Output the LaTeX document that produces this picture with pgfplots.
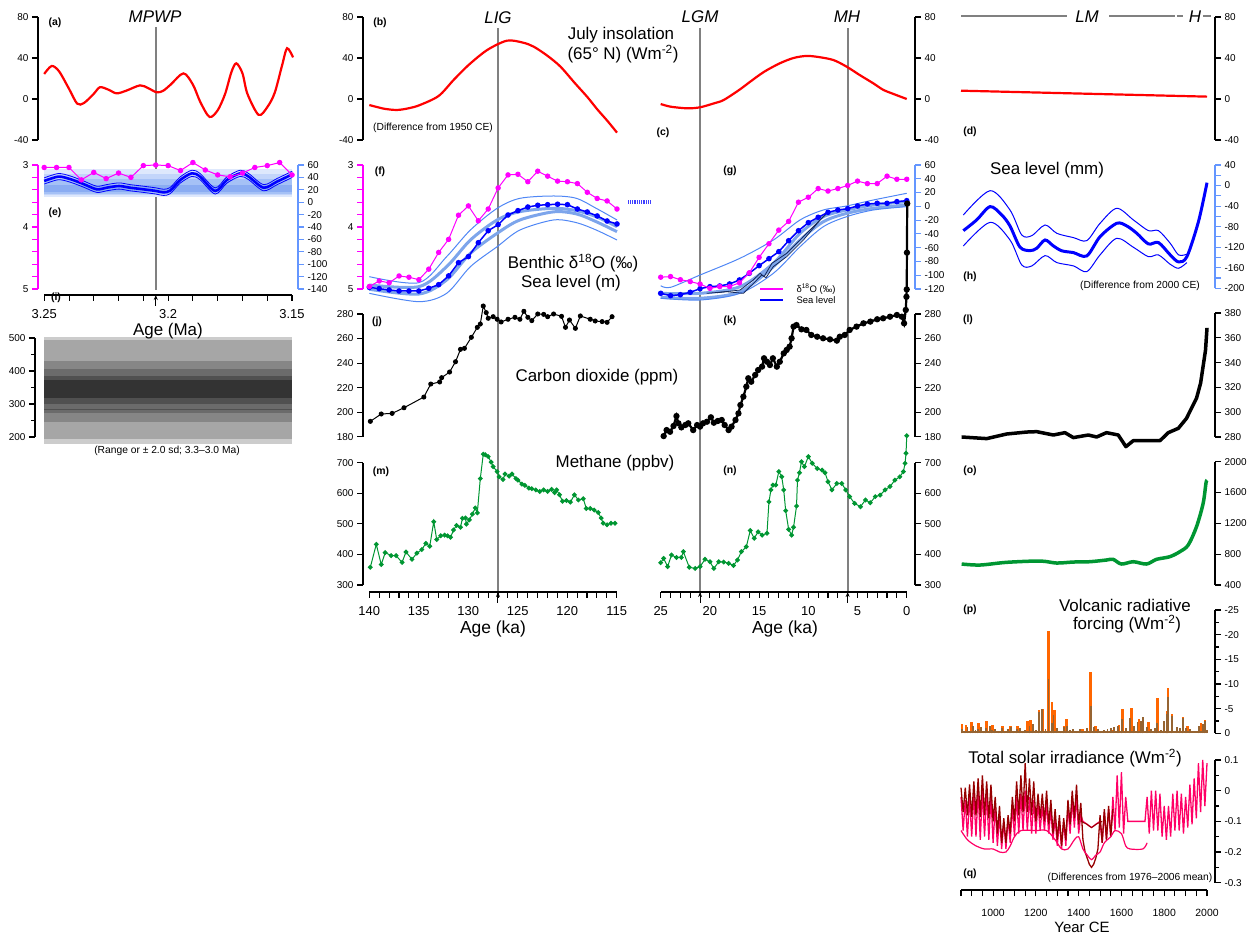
\documentclass[border=0pt]{standalone}
\usepackage{fontspec}
\setmainfont{Liberation Sans}
\usepackage{pgfplots}
\pgfplotsset{compat=1.18}
\usetikzlibrary{arrows.meta}
\definecolor{insol}{RGB}{255,0,0}
\definecolor{mag}{RGB}{255,0,255}
\definecolor{blaxis}{RGB}{100,150,255}
\definecolor{sl}{RGB}{0,0,255}
\definecolor{slthick}{RGB}{125,165,235}
\definecolor{slthin}{RGB}{80,135,245}
\definecolor{navy}{RGB}{20,40,90}
\definecolor{ch4}{RGB}{0,150,50}
\definecolor{volc}{RGB}{255,102,0}
\definecolor{volcb}{RGB}{150,100,50}
\definecolor{tsidark}{RGB}{150,0,0}
\definecolor{tsipink}{RGB}{255,0,102}
\definecolor{per}{RGB}{128,128,128}
\definecolor{eba}{RGB}{222,232,252}
\definecolor{ebb}{RGB}{195,213,250}
\definecolor{ebc}{RGB}{165,193,246}
\definecolor{ebd}{RGB}{138,172,242}
\definecolor{ga}{RGB}{204,204,204}
\definecolor{gb}{RGB}{166,166,166}
\definecolor{gc}{RGB}{134,134,134}
\definecolor{gd}{RGB}{107,107,107}
\definecolor{ge}{RGB}{80,80,80}
\definecolor{gf}{RGB}{51,51,51}
\newcommand{\fs}[1]{\fontsize{#1}{#1}\selectfont}
\pgfplotsset{
  P/.style={scale only axis, anchor=south west, clip=false,
    axis line style={-, line width=1.3bp},
    tick style={line width=1.1bp, black},
    major tick length=6bp, minor tick length=6bp,
    tick align=outside,
    ticklabel style={font=\fs{10}},
    /pgf/number format/assume math mode=true,
    /pgf/number format/1000 sep={},
    axis x line=none, axis y line*=left},
  LL/.style={axis y line*=left},
  RR/.style={axis y line*=right},
  RN/.style={axis y line*=right},
  BL/.style={y axis line style={blaxis}, ytick style={blaxis, line width=1.1bp}},
  MG/.style={y axis line style={mag}, ytick style={mag, line width=1.1bp}},
  H/.style={P, hide axis},
  X/.style={scale only axis, anchor=south west, clip=false,
    axis line style={-, line width=1.3bp},
    tick style={line width=1.1bp, black},
    major tick length=6bp, minor tick length=6bp,
    /pgf/number format/assume math mode=true,
    /pgf/number format/1000 sep={},
    axis y line=none, axis x line*=bottom, xtick pos=left, xticklabel pos=left,
    tick align=outside, height=10bp, ymin=0, ymax=1,
    xticklabel style={font=\fs{13}, yshift=-5bp}},
}
\begin{document}
\begin{tikzpicture}
\useasboundingbox (0,0) rectangle (1255bp,935bp);

% ================= Column A (Pliocene) =================
\begin{axis}[P, LL, at={(38bp,795bp)}, width=260bp, height=123bp,
  x dir=reverse, xmin=3.1476, xmax=3.2525, ymin=-40, ymax=80, ytick={-40,0,40,80}]
\addplot[per, line width=2.2bp] coordinates {(3.205,70) (3.205,-186)};
\addplot[insol, line width=2.2bp, smooth] coordinates {
(3.25,24.4) (3.247,32.2) (3.244,27) (3.240,10) (3.2367,-4.5) (3.234,-4) (3.230,5) (3.2275,11.5)
(3.224,9) (3.2208,5.5) (3.217,8) (3.2113,13.3) (3.208,10.5) (3.2046,6.5) (3.202,8) (3.199,14)
(3.1938,25) (3.190,14) (3.187,-3) (3.1833,-17.5) (3.180,-11) (3.177,5) (3.1745,26) (3.1725,34.8)
(3.170,25) (3.168,5) (3.1635,-15.5) (3.160,-8) (3.157,6) (3.154,33) (3.152,49.5) (3.1496,40.6)};
\end{axis}

\begin{axis}[P, RR, BL, at={(38bp,646bp)}, width=260bp, height=124bp,
  x dir=reverse, xmin=3.1476, xmax=3.2525, ymin=-140, ymax=60, ytick={-140,-120,...,60}]
\addplot[fill=eba, draw=none] coordinates {(3.25,9) (3.15,9) (3.15,53.5) (3.25,53.5)};
\addplot[fill=ebb, draw=none] coordinates {(3.25,11) (3.15,11) (3.15,46) (3.25,46)};
\addplot[fill=ebc, draw=none] coordinates {(3.25,13) (3.15,13) (3.15,37) (3.25,37)};
\addplot[fill=ebd, draw=none] coordinates {(3.25,16) (3.15,16) (3.15,28) (3.25,28)};
\addplot[sl, line width=0.8bp, smooth] coordinates {
(3.25,39.2) (3.2443,46.2) (3.2396,42.4) (3.2342,34.4) (3.2288,25.8) (3.2248,28.4) (3.2198,31.1)
(3.2154,28.4) (3.2100,25.8) (3.2049,23.1) (3.2019,20.9) (3.1992,23.6) (3.1951,40.8) (3.1904,51.6)
(3.1871,46.2) (3.1810,23.1) (3.1763,40.8) (3.1709,51.6) (3.1675,46.2) (3.1615,28.4) (3.1561,38.1) (3.1499,50)};
\addplot[sl, line width=0.8bp, smooth] coordinates {
(3.25,29.2) (3.2443,36.2) (3.2396,32.4) (3.2342,24.4) (3.2288,15.8) (3.2248,18.4) (3.2198,21.1)
(3.2154,18.4) (3.2100,15.8) (3.2049,13.1) (3.2019,10.9) (3.1992,13.6) (3.1951,30.8) (3.1904,41.6)
(3.1871,36.2) (3.1810,13.1) (3.1763,30.8) (3.1709,41.6) (3.1675,36.2) (3.1615,18.4) (3.1561,28.1) (3.1499,40)};
\addplot[sl, line width=2.6bp, smooth] coordinates {
(3.25,34.2) (3.2443,41.2) (3.2396,37.4) (3.2342,29.4) (3.2288,20.8) (3.2248,23.4) (3.2198,26.1)
(3.2154,23.4) (3.2100,20.8) (3.2049,18.1) (3.2019,15.9) (3.1992,18.6) (3.1951,35.8) (3.1904,46.6)
(3.1871,41.2) (3.1810,18.1) (3.1763,35.8) (3.1709,46.6) (3.1675,41.2) (3.1615,23.4) (3.1561,33.1) (3.1499,45)};
\end{axis}

\begin{axis}[P, LL, MG, at={(38bp,646bp)}, width=260bp, height=124bp,
  x dir=reverse, xmin=3.1476, xmax=3.2525, y dir=reverse, ymin=3, ymax=5,
  ytick={3,4,5}, minor ytick={3.2,3.4,3.6,3.8,4.2,4.4,4.6,4.8}]
\addplot[mag, line width=1bp, mark=*, mark size=2.2bp] coordinates {
(3.25,3.04) (3.245,3.04) (3.24,3.04) (3.235,3.24) (3.23,3.12) (3.225,3.22) (3.22,3.13) (3.215,3.20)
(3.21,3.01) (3.205,3.00) (3.20,3.01) (3.195,3.09) (3.19,2.96) (3.185,3.08) (3.18,3.16) (3.175,3.19)
(3.17,3.13) (3.165,3.04) (3.16,3.01) (3.155,2.96) (3.15,3.16)};
\end{axis}

\begin{axis}[X, at={(44.3bp,640bp)}, width=247.7bp, x dir=reverse, xmin=3.15, xmax=3.25,
  xtick={3.15,3.2,3.25}, xticklabels={3.15,3.2,3.25},
  minor xtick={3.16,3.17,3.18,3.19,3.21,3.22,3.23,3.24}]
\addplot[black, line width=1bp, -{Stealth[length=5bp,width=4bp]}] coordinates {(3.205,-1.1) (3.205,0)};
\end{axis}

\begin{axis}[P, LL, at={(35bp,498bp)}, width=257bp, height=99bp, minor tick length=3.5bp,
  x dir=reverse, xmin=3.15, xmax=3.2538, ymin=200, ymax=500,
  ytick={200,300,400,500}, minor ytick={250,350,450}]
\addplot[fill=ga, draw=none] coordinates {(3.25,177.8) (3.15,177.8) (3.15,503.9) (3.25,503.9)};
\addplot[fill=gb, draw=none] coordinates {(3.25,194.8) (3.15,194.8) (3.15,494) (3.25,494)};
\addplot[fill=gc, draw=none] coordinates {(3.25,246.5) (3.15,246.5) (3.15,430.3) (3.25,430.3)};
\addplot[fill=gd, draw=none] coordinates {(3.25,271.8) (3.15,271.8) (3.15,406) (3.25,406)};
\addplot[fill=ge, draw=none] coordinates {(3.25,301) (3.15,301) (3.15,385.8) (3.25,385.8)};
\addplot[fill=gf, draw=none] coordinates {(3.25,317) (3.15,317) (3.15,372) (3.25,372)};
\addplot[ge, line width=1bp] coordinates {(3.25,284) (3.15,284)};
\end{axis}

% ================= Column B (LIG) =================
\begin{axis}[P, LL, at={(363bp,795bp)}, width=254bp, height=123bp,
  x dir=reverse, xmin=115, xmax=140.64, ymin=-40, ymax=80, ytick={-40,0,40,80}]
\addplot[per, line width=2.2bp] coordinates {(127,69) (127,-481)};
\addplot[insol, line width=2.2bp, smooth] coordinates {
(140,-5.9) (138.5,-9.5) (137.2,-10.7) (136,-9) (134.9,-5.9) (133,3) (131.5,18.5) (130,33) (128.1,47.8)
(126.1,56.9) (124.5,55) (123.4,51) (122,42) (120.7,31.5) (119.3,16) (118,2) (117,-10) (116,-21) (115,-32.8)};
\end{axis}

\begin{axis}[H, at={(363bp,646bp)}, width=254bp, height=124bp,
  x dir=reverse, xmin=115, xmax=140.64, ymin=-120, ymax=60]
\addplot[slthin, line width=1bp, smooth] coordinates {
(140,-102.1) (135,-110.8) (132.2,-73.1) (129.8,-34.4) (127.1,-2.9) (124.8,11.6) (121.4,15) (119.1,11.6) (117.1,-2.9) (115,-19.8)};
\addplot[slthick, line width=3bp, smooth] coordinates {
(140,-114.2) (135,-116.6) (132.2,-87.6) (129.8,-48.9) (127.1,-19.8) (124.8,-7.7) (121.4,-2.9) (119.1,-6.3) (117.1,-15) (115,-29.5)};
\addplot[slthick, line width=3bp, smooth] coordinates {
(140,-120.4) (135,-127.3) (132.2,-106.9) (129.8,-68.2) (127.1,-39.2) (124.8,-19.8) (121.4,-8) (119.1,-11) (117.1,-22.3) (115,-36.8)};
\addplot[slthin, line width=1bp, smooth] coordinates {
(140,-126.3) (135,-138.4) (132.2,-126.3) (129.8,-87.6) (127.1,-58.6) (124.8,-34.4) (121.4,-19.8) (119.1,-23.7) (117.1,-34.4) (115,-48.9)};
\addplot[sl, line width=1.5bp, mark=*, mark size=2bp] coordinates {
(140,-117.6) (139,-119.5) (138,-121.4) (137,-122.9) (136,-122.9) (135,-122.9) (134,-119) (133,-113.7)
(132,-101) (131,-81.8) (130,-73) (129,-52.8) (128,-35.4) (127,-26.6) (126,-12.6) (125,-6.3) (124,-1)
(123,1.5) (122,2.4) (121,3) (120,2.4) (119,-3.9) (118,-8.2) (117,-14) (116,-21.3) (115,-25.6)};
\addplot[sl!75!white, line width=4bp, dash pattern=on 1bp off 0.8bp] coordinates {(113.86,6.3) (111.6,6.3)};
\end{axis}

\begin{axis}[P, LL, MG, at={(363bp,646bp)}, width=254bp, height=124bp,
  x dir=reverse, xmin=115, xmax=140.64, y dir=reverse, ymin=3, ymax=5,
  ytick={3,4,5}, minor ytick={3.2,3.4,3.6,3.8,4.2,4.4,4.6,4.8}]
\addplot[mag, line width=1bp, mark=*, mark size=2.2bp] coordinates {
(140,4.96) (139,4.87) (138,4.90) (137,4.79) (136,4.81) (135,4.85) (134,4.68) (133,4.41) (132,4.20)
(131,3.81) (130,3.66) (129,3.90) (128,3.71) (127,3.37) (126,3.16) (125,3.15) (124,3.27) (123,3.10)
(122,3.18) (121,3.26) (120,3.27) (119,3.30) (118,3.44) (117,3.54) (116,3.58) (115,3.71)};
\end{axis}

\begin{axis}[P, LL, at={(363bp,498.3bp)}, width=254bp, height=122.7bp,
  x dir=reverse, xmin=115, xmax=140.64, ymin=180, ymax=280, ytick={180,200,...,280}]
\addplot[black, line width=1bp, mark=*, mark size=2bp] coordinates {
(139.9,192.5) (138.8,198.5) (137.7,199) (136.5,203.6) (134.5,212.3) (133.8,222.9) (132.9,224.6)
(132.7,228.1) (131.9,232.7) (131.3,241.1) (130.8,251.2) (130.4,252) (129.7,261) (129.1,269.1)
(128.8,271.8) (128.5,286.5) (128.2,281.1) (128.0,276.5) (127.5,277.8) (127.1,275.7) (126.7,273.5)
(126.0,275.7) (125.3,277.3) (124.8,275.7) (124.4,282.2) (124.0,277.3) (123.6,274.6) (123.0,280)
(122.4,279.7) (122.0,277.8) (121.4,280) (120.6,278.1) (120.2,269.1) (119.8,275.1) (119.2,268.3)
(118.7,278.4) (117.7,275.7) (117.2,274.3) (116.5,273.8) (116.0,273.2) (115.5,277.8)};
\end{axis}

\begin{axis}[P, LL, at={(363bp,350bp)}, width=254bp, height=122.3bp,
  x dir=reverse, xmin=115, xmax=140.64, ymin=300, ymax=700, ytick={300,400,...,700}]
\addplot[ch4, line width=1bp, mark=*, mark size=1.9bp] coordinates {
(139.9,358) (139.3,433) (138.8,367) (138.4,406) (137.8,396) (137.3,396) (136.7,374) (136.3,408)
(135.7,384) (135.2,404) (134.7,416) (134.3,436) (133.9,427) (133.5,507) (133.2,449) (132.8,461)
(132.4,463) (132.1,461) (131.8,456) (131.5,480) (131.2,495) (130.8,489) (130.6,518) (130.3,519)
(130.2,499) (129.9,513) (129.6,532) (129.3,552) (129.1,536) (128.8,648) (128.5,728) (128.3,726)
(128.0,720) (127.7,702) (127.5,687) (127.1,671) (126.9,654) (126.5,645) (126.3,663) (125.9,656)
(125.6,663) (125.2,648) (125.0,643) (124.6,630) (124.3,626) (123.9,617) (123.6,615) (123.2,611)
(122.8,606) (122.4,611) (122.0,606) (121.6,613) (121.3,602) (121.1,611) (120.8,595) (120.5,574)
(120.1,576) (119.7,571) (119.3,595) (118.9,578) (118.4,582) (118.1,550) (117.7,550) (117.3,545)
(116.9,537) (116.6,519) (116.4,502) (116.0,497) (115.6,502) (115.2,502)};
\end{axis}

\begin{axis}[X, at={(369.3bp,343bp)}, width=247.4bp, x dir=reverse, xmin=115, xmax=140,
  xtick={115,120,...,140}, minor xtick={115,116,...,140}]
\addplot[black, line width=1bp, -{Stealth[length=5bp,width=4bp]}] coordinates {(127,-1.1) (127,0)};
\end{axis}

% ================= Column C (Holocene) =================
\begin{axis}[P, RR, at={(660.7bp,795bp)}, width=254.3bp, height=123bp,
  x dir=reverse, xmin=-0.84, xmax=25, ymin=-40, ymax=80, ytick={-40,0,40,80}]
\addplot[per, line width=2.2bp] coordinates {(21,69) (21,-481)};
\addplot[per, line width=2.2bp] coordinates {(6,69) (6,-481)};
\addplot[insol, line width=2.2bp, smooth] coordinates {
(25,-4.9) (24,-7.5) (22.3,-9.1) (21,-8.1) (19.5,-4) (18.6,-1) (17,9) (15.9,16.9) (14.5,26.5)
(12.9,34.8) (11.5,40) (10.2,42) (9,41) (7.45,38) (6.1,31.5) (4.8,23.5) (3.4,15.3) (2.4,9) (1.35,4.9) (0,0)};
\end{axis}

\begin{axis}[P, RR, BL, at={(660.7bp,646bp)}, width=254.3bp, height=124bp,
  x dir=reverse, xmin=-0.84, xmax=25, ymin=-120, ymax=60, ytick={-120,-100,...,60}]
\addplot[slthin, line width=1bp, smooth] coordinates {
(25,-115.2) (24,-117.6) (21,-99.7) (16.94,-75.4) (13.55,-48.9) (10.84,-19.8) (8.47,-5.3) (6.1,0.5) (3.39,9.2) (0,18.9)};
\addplot[slthick, line width=3bp, smooth] coordinates {
(25,-126.3) (21,-126.3) (16.94,-116.6) (13.55,-82.7) (10.84,-39.2) (8.47,-15) (6.1,-5.3) (3.39,1.9) (0,6.8)};
\addplot[slthick, line width=3bp, smooth] coordinates {
(25,-132) (21,-133.5) (16.94,-123.9) (13.55,-87.6) (10.84,-48.9) (8.47,-22.3) (6.1,-10.2) (3.39,-2.9) (0,1.9)};
\addplot[slthin, line width=1bp, smooth] coordinates {
(25,-133.5) (21,-136) (16.94,-126.3) (13.55,-97.2) (10.84,-58.6) (8.47,-29.5) (6.1,-15) (3.39,-5.3) (0,-0.5)};
\addplot[navy, line width=0.8bp] coordinates {
(20.33,-126.3) (18.33,-123.9) (16.6,-126.3) (15.4,-109.4) (14.74,-99.7) (14.3,-103.6) (13.56,-87.6) (12.2,-73.1) (10.5,-48.9) (8.8,-19.8) (8.13,-10.2)};
\addplot[navy, line width=0.8bp] coordinates {
(19.3,-125.4) (16.94,-121.5) (15.6,-107) (14.9,-97.2) (14.5,-102.1) (13.7,-82.7) (12.2,-68.2) (10.84,-48.9) (9.15,-24.7) (8.13,-10.2)};
\addplot[sl, line width=1.5bp, mark=*, mark size=2bp] coordinates {
(25,-126.3) (24,-129.7) (23,-128.3) (22,-124.8) (21,-119.5) (20,-116.6) (19,-115.6) (18,-112.7)
(17,-106.9) (16,-97.2) (15,-86.1) (14,-76) (13,-65.8) (12,-49.9) (11,-35.4) (10,-23.7) (9,-15.9)
(8,-8.7) (7,-5.3) (6,-3.4) (5,0.5) (4,3.4) (3,4.4) (2,4.4) (1,6.8) (0,8.2)};
\end{axis}

\begin{axis}[H, at={(660.7bp,646bp)}, width=254.3bp, height=124bp,
  x dir=reverse, xmin=-0.84, xmax=25, y dir=reverse, ymin=3, ymax=5]
\addplot[mag, line width=1bp, mark=*, mark size=2.2bp] coordinates {
(25,4.81) (24,4.80) (23,4.85) (22,4.88) (21,4.92) (20,4.99) (19,4.96) (18,4.96) (17,4.90) (16,4.74)
(15,4.49) (14,4.27) (13,4.05) (12,3.91) (11,3.60) (10,3.52) (9,3.38) (8,3.42) (7,3.38) (6,3.33)
(5,3.26) (4,3.30) (3,3.30) (2,3.18) (1,3.23) (0,3.23)};
\end{axis}

\begin{axis}[P, RR, at={(660.7bp,498.3bp)}, width=254.3bp, height=122.7bp,
  x dir=reverse, xmin=-0.84, xmax=25, ymin=180, ymax=280, ytick={180,200,...,280}]
\addplot[black, line width=2.2bp, mark=*, mark size=2bp] coordinates {
(24.7,180.5) (24.4,185.4) (24.05,184) (23.7,188.7) (23.4,196.8) (23.2,190.9) (22.9,187.6) (22.5,189.5)
(22.2,190.9) (21.7,185.4) (21.3,189.5) (21.0,188.2) (20.7,190.9) (20.3,192.2) (19.9,195.8) (19.6,191.4)
(19.2,192.8) (18.8,193.6) (18.5,189.5) (18.1,185.4) (17.8,188.2) (17.4,193.6) (17.1,199) (16.9,205.8)
(16.6,212.6) (16.3,220.8) (16.1,227.6) (15.8,224.8) (15.4,230.3) (15.1,234.3) (14.7,237.1) (14.5,243.9)
(14.2,241.1) (13.9,238.4) (13.6,243.9) (13.2,237.1) (12.9,241.1) (12.5,247.9) (12.2,250.7) (11.9,253.4)
(11.7,260.2) (11.5,269.7) (11.2,271) (10.7,267.5) (10.2,267) (9.7,262.9) (9.1,261.5) (8.5,260.2)
(7.8,259.3) (7.1,258.3) (6.8,261.5) (6.3,262.9) (5.8,267) (5.1,269.7) (4.4,272.4) (3.7,273.8)
(3.0,275.7) (2.4,276.5) (1.7,277.8) (1.0,279.2) (0.5,277.8) (0.27,272.4) (0.1,283.3) (0.03,294)
(0.0,300) (-0.02,330) (-0.05,370)};
\end{axis}

\begin{axis}[P, RR, at={(660.7bp,350bp)}, width=254.3bp, height=122.3bp,
  x dir=reverse, xmin=-0.84, xmax=25, ymin=300, ymax=700, ytick={300,400,...,700}]
\addplot[ch4, line width=1bp, mark=*, mark size=1.9bp] coordinates {
(25,373) (24.7,387) (24.3,360) (23.9,398) (23.4,390) (22.9,390) (22.7,409) (22.1,358) (21.5,354)
(21.0,360) (20.5,384) (20.0,376) (19.6,354) (19.1,376) (18.6,375) (18.1,371) (17.6,364) (17.2,382)
(16.8,409) (16.3,425) (15.9,478) (15.5,453) (15.1,474) (14.7,463) (14.2,469) (14.0,572) (13.8,611)
(13.6,627) (13.3,627) (13.0,671) (12.7,654) (12.5,611) (12.3,543) (12.0,482) (11.7,463) (11.5,489)
(11.2,558) (11.1,643) (10.9,667) (10.7,703) (10.4,687) (10.0,720) (9.6,698) (9.1,681) (8.6,676)
(8.3,667) (8.0,638) (7.6,611) (7.1,632) (6.6,632) (6.2,611) (5.8,589) (5.3,567) (4.7,556) (4.2,578)
(3.7,569) (3.2,589) (2.7,594) (2.2,611) (1.7,622) (1.2,643) (0.7,654) (0.34,671) (0.17,698) (0.07,731) (0.0,788)};
\end{axis}

\begin{axis}[X, at={(660.7bp,343bp)}, width=246bp, x dir=reverse, xmin=0, xmax=25,
  xtick={0,5,...,25}, minor xtick={0,1,...,25}]
\addplot[black, line width=1bp, -{Stealth[length=5bp,width=4bp]}] coordinates {(21,-1.1) (21,0)};
\addplot[black, line width=1bp, -{Stealth[length=5bp,width=4bp]}] coordinates {(6,-1.1) (6,0)};
\end{axis}

% ================= Column D (Last millennium) =================
\begin{axis}[P, RN, at={(961bp,795bp)}, width=254bp, height=123bp,
  xmin=850, xmax=2037.4, ymin=-40, ymax=80, ytick={-40,0,40,80}]
\addplot[per, line width=2bp] coordinates {(850,81) (1345,81)};
\addplot[per, line width=2bp] coordinates {(1542,81) (1850,81)};
\addplot[per, line width=2bp] coordinates {(1859,81) (1887,81)};
\addplot[per, line width=2bp] coordinates {(1981,81) (2018,81)};
\addplot[insol, line width=2.2bp] coordinates {(850,8.1) (2000,2.3)};
\end{axis}

\begin{axis}[P, RN, BL, at={(961bp,646.7bp)}, width=254bp, height=123.3bp,
  xmin=850, xmax=2037.4, ymin=-200, ymax=40, ytick={-200,-160,...,40}, minor ytick={-180,-140,...,20}]
\addplot[sl, line width=1bp, smooth] coordinates {
(861,-57.3) (986,-10) (1079,-47.6) (1134,-96.2) (1181,-97.5) (1243,-76.8) (1298,-93) (1376,-101.4)
(1438,-107.2) (1500,-73.5) (1578,-44.3) (1656,-67) (1726,-87.8) (1773,-87.8) (1828,-112.4) (1867,-135) (1906,-133.8)};
\addplot[sl, line width=1bp, smooth] coordinates {
(861,-117.6) (986,-71.6) (1079,-106) (1134,-154.6) (1181,-156.5) (1243,-136.4) (1298,-150) (1376,-156.5)
(1438,-167.5) (1500,-135) (1578,-102.7) (1656,-120.2) (1726,-138.4) (1773,-135) (1828,-153.3) (1867,-161) (1906,-150)};
\addplot[sl, line width=3bp, smooth] coordinates {
(861,-87.8) (923,-67) (986,-41) (1040,-57) (1079,-78.7) (1126,-120) (1173,-126.7) (1204,-122)
(1243,-106) (1282,-117.6) (1321,-127) (1376,-130.6) (1438,-137) (1500,-99.5) (1578,-73.5)
(1625,-78.7) (1672,-93) (1726,-113.7) (1773,-111) (1828,-135) (1867,-148.7) (1906,-138.4) (1960,-70.3) (2000,5.6)};
\end{axis}

\begin{axis}[P, RN, at={(961bp,498bp)}, width=254bp, height=124bp,
  xmin=850, xmax=2037.4, ymin=280, ymax=380, ytick={280,300,...,380}]
\addplot[black, line width=3.5bp, line join=round] coordinates {
(853,280) (970,278.7) (1063,282.4) (1157,284) (1204,284.3) (1282,281.6) (1336,283.5) (1375,279.5)
(1445,281.6) (1484,280) (1530,283.5) (1585,281.6) (1621,272.2) (1655,277) (1717,277) (1780,277)
(1819,283.5) (1866,287) (1904,295) (1951,311.3) (1970,323.4) (1993,350) (2000,368)};
\end{axis}

\begin{axis}[P, RN, at={(961bp,350bp)}, width=254bp, height=123.3bp,
  xmin=850, xmax=2037.4, ymin=400, ymax=2000, ytick={400,800,...,2000}]
\addplot[ch4, line width=3.5bp, line join=round, smooth] coordinates {
(853,672) (939,659) (1063,694) (1219,711) (1297,685) (1375,698) (1452,702) (1530,724) (1561,733)
(1600,672) (1655,702) (1717,672) (1764,733) (1826,767) (1873,832) (1912,918) (1951,1157) (1982,1460)
(1995,1720) (2000,1760)};
\end{axis}

\begin{axis}[P, RN, at={(961bp,201.7bp)}, width=254bp, height=123.3bp, minor tick length=4bp,
  xmin=850, xmax=2037.4, y dir=reverse, ymin=-25, ymax=0, ytick={-25,-20,...,0},
  minor ytick={-22.5,-17.5,-12.5,-7.5,-2.5}]
\addplot[volc, ycomb, line width=2.5bp] coordinates {
(855,-1.9) (873,-1.7) (898,-2.2) (931,-2.0) (970,-2.4) (997,-1.7) (1043,-1.5) (1082,-1.5) (1113,-1.4)
(1160,-2.4) (1175,-2.6) (1214,-4.7) (1230,-5.0) (1259,-20.8) (1276,-6.3) (1287,-4.7) (1331,-1.4)
(1342,-3.0) (1417,-0.8) (1456,-12.4) (1479,-1.4) (1557,-0.7) (1588,-1.7) (1604,-4.9) (1646,-5.1)
(1682,-2.8) (1701,-3.4) (1726,-2.2) (1768,-7.1) (1812,-4.5) (1817,-9.1) (1836,-3.9) (1888,-3.4)
(1908,-1.5) (1971,-2.0) (1991,-2.6)};
\addplot[volcb, ycomb, line width=1.8bp] coordinates {
(855,-0.9) (868,-0.5) (880,-1.2) (895,-0.4) (905,-1.5) (918,-0.6) (930,-0.9) (945,-1.3) (958,-0.5)
(968,-1.0) (985,-1.4) (995,-0.6) (1010,-0.8) (1025,-0.4) (1040,-1.1) (1055,-0.5) (1070,-0.9)
(1083,-1.2) (1098,-0.4) (1110,-0.8) (1125,-1.1) (1138,-0.5) (1150,-0.7) (1170,-1.5) (1185,-1.8)
(1200,-0.6) (1214,-4.3) (1230,-5.0) (1245,-0.8) (1259,-11.1) (1275,-2.0) (1282,-3.7) (1300,-1.0)
(1315,-0.5) (1330,-1.2) (1345,-1.5) (1360,-0.6) (1375,-0.9) (1390,-0.4) (1405,-0.8) (1420,-0.5)
(1440,-1.0) (1456,-5.5) (1470,-1.2) (1490,-0.8) (1505,-0.4) (1520,-0.7) (1535,-0.9) (1550,-1.0)
(1565,-1.3) (1585,-1.5) (1604,-3.0) (1620,-1.0) (1641,-3.2) (1660,-1.5) (1675,-2.3) (1690,-2.5)
(1701,-3.4) (1720,-1.2) (1740,-0.8) (1755,-1.0) (1768,-2.0) (1785,-0.7) (1800,-2.4) (1812,-4.0)
(1817,-7.3) (1835,-3.5) (1860,-1.2) (1875,-1.0) (1888,-3.2) (1900,-1.0) (1920,-0.8) (1963,-1.5)
(1982,-1.8) (1991,-2.4) (2000,-0.6)};
\addplot[volcb, line width=2bp] coordinates {(852,-0.3) (2000,-0.3)};
\end{axis}

\begin{axis}[P, RN, at={(961bp,52.3bp)}, width=254bp, height=122.7bp, minor tick length=4bp,
  xmin=850, xmax=2037.4, ymin=-0.3, ymax=0.1, ytick={-0.3,-0.2,-0.1,0,0.1},
  minor ytick={-0.25,-0.15,-0.05,0.05}]
\addplot[tsipink, line width=1.3bp] coordinates {
(850,-0.02) (860,-0.13) (870,-0.03) (880,-0.15) (890,-0.02) (900,-0.15) (910,-0.01) (920,-0.15)
(930,0.0) (940,-0.16) (950,0.0) (960,-0.15) (970,-0.01) (980,-0.16) (990,-0.02) (1000,-0.17)
(1010,-0.05) (1020,-0.18) (1030,-0.08) (1040,-0.19) (1050,-0.1) (1060,-0.19) (1070,-0.09) (1080,-0.17)
(1090,-0.05) (1100,-0.15) (1110,-0.02) (1120,-0.14) (1130,-0.01) (1140,-0.13) (1150,0.0) (1160,-0.13)
(1170,-0.02) (1180,-0.14) (1190,-0.03) (1200,-0.14) (1210,-0.04) (1220,-0.13) (1230,-0.05) (1240,-0.13)
(1250,-0.04) (1260,-0.14) (1270,-0.06) (1280,-0.16) (1290,-0.09) (1300,-0.18) (1310,-0.1) (1320,-0.19)
(1330,-0.1) (1340,-0.18) (1350,-0.05) (1360,-0.14) (1370,-0.03) (1380,-0.12) (1390,-0.02) (1400,-0.14)
(1410,-0.08) (1420,-0.1) (1440,-0.11) (1460,-0.12) (1480,-0.11) (1500,-0.1) (1510,-0.17) (1520,-0.07)
(1530,-0.16) (1540,-0.06) (1550,-0.15) (1560,-0.02) (1570,-0.13) (1580,0.05) (1590,-0.12) (1600,0.06)
(1610,-0.14) (1620,-0.02) (1630,-0.1) (1650,-0.1) (1670,-0.1) (1690,-0.1) (1710,-0.1) (1720,-0.02)
(1730,-0.14) (1740,0.0) (1750,-0.13) (1760,0.0) (1770,-0.13) (1780,-0.01) (1790,-0.15) (1800,-0.05)
(1810,-0.16) (1820,-0.05) (1830,-0.15) (1840,-0.01) (1850,-0.13) (1860,0.0) (1870,-0.13) (1880,-0.01)
(1890,-0.14) (1900,-0.02) (1910,-0.12) (1920,0.02) (1930,-0.11) (1940,0.04) (1950,-0.09) (1960,0.09)
(1970,-0.07) (1980,0.10) (1990,-0.05) (2000,0.09)};
\addplot[tsidark, line width=1.3bp] coordinates {
(850,0.01) (860,-0.07) (870,0.01) (880,-0.08) (890,0.02) (900,-0.085) (910,0.03) (920,-0.08)
(930,0.04) (940,-0.085) (950,0.05) (960,-0.08) (970,0.03) (980,-0.09) (990,0.02) (1000,-0.10)
(1010,-0.02) (1020,-0.14) (1030,-0.05) (1040,-0.17) (1050,-0.09) (1060,-0.17) (1070,-0.08) (1080,-0.14)
(1090,-0.02) (1100,-0.10) (1110,0.03) (1120,-0.08) (1130,0.05) (1140,-0.07) (1150,0.09) (1160,-0.07)
(1170,0.04) (1180,-0.08) (1190,0.03) (1200,-0.10) (1210,-0.01) (1220,-0.09) (1230,-0.01) (1240,-0.10)
(1250,0.0) (1260,-0.11) (1270,-0.03) (1280,-0.14) (1290,-0.06) (1300,-0.16) (1310,-0.08) (1320,-0.18)
(1330,-0.09) (1340,-0.16) (1350,-0.03) (1360,-0.11) (1370,0.0) (1380,-0.09) (1390,0.02) (1400,-0.11)
(1410,-0.04) (1420,-0.16) (1430,-0.20) (1440,-0.22) (1450,-0.24) (1460,-0.25) (1470,-0.24) (1480,-0.22)
(1490,-0.19) (1500,-0.08) (1510,-0.17) (1520,-0.06) (1530,-0.16) (1540,-0.05) (1550,-0.15) (1560,-0.06)};
\addplot[tsidark, line width=1bp, smooth] coordinates {
(1410,-0.10) (1440,-0.11) (1460,-0.12) (1480,-0.11) (1510,-0.10)};
\addplot[tsipink, line width=1.2bp, smooth] coordinates {
(850,-0.13) (880,-0.16) (920,-0.18) (960,-0.19) (1000,-0.19) (1030,-0.2) (1060,-0.2) (1080,-0.18)
(1100,-0.15) (1130,-0.13) (1200,-0.13) (1250,-0.13) (1290,-0.16) (1320,-0.19) (1350,-0.19)
(1380,-0.16) (1400,-0.15) (1420,-0.19) (1440,-0.21) (1460,-0.225) (1480,-0.21) (1500,-0.2)
(1520,-0.17) (1550,-0.15) (1570,-0.13) (1600,-0.14) (1620,-0.18) (1640,-0.19) (1700,-0.19) (1720,-0.17)};
\end{axis}

\begin{axis}[X, at={(961bp,45bp)}, width=246bp, xmin=850, xmax=2000,
  xtick={1000,1200,...,2000}, minor xtick={850,900,...,2000},
  xticklabel style={font=\fs{10.5}, yshift=-5bp}]
\addplot[draw=none] coordinates {(900,0.5)};
\end{axis}

% ================= Text =================
\node[font=\fs{17}\itshape] at (155bp,918bp) {MPWP};
\node[font=\fs{17}\itshape] at (498bp,917bp) {LIG};
\node[font=\fs{17}\itshape] at (700bp,918bp) {LGM};
\node[font=\fs{17}\itshape] at (847bp,918bp) {MH};
\node[font=\fs{17}\itshape] at (1087bp,918bp) {LM};
\node[font=\fs{17}\itshape] at (1195bp,918bp) {H};

\node[font=\fs{17}] at (621bp,900bp) {July insolation};
\node[font=\fs{17}] at (623bp,881bp) {(65° N) (Wm\textsuperscript{-2})};
\node[font=\fs{17}] at (573bp,672bp) {Benthic δ\textsuperscript{18}O (‰)};
\node[font=\fs{17}] at (571bp,652bp) {Sea level (m)};
\node[font=\fs{17}] at (597bp,558bp) {Carbon dioxide (ppm)};
\node[font=\fs{17}] at (615bp,472bp) {Methane (ppbv)};
\node[font=\fs{17}] at (1047bp,765bp) {Sea level (mm)};
\node[font=\fs{17}] at (1125bp,330bp) {Volcanic radiative};
\node[font=\fs{17}] at (1127bp,311bp) {forcing (Wm\textsuperscript{-2})};
\node[font=\fs{17}] at (1075bp,177bp) {Total solar irradiance (Wm\textsuperscript{-2})};

\node[font=\fs{10.3}] at (433bp,807bp) {(Difference from 1950 CE)};
\node[font=\fs{10.3}] at (167bp,484bp) {(Range or ± 2.0 sd; 3.3–3.0 Ma)};
\node[font=\fs{10.3}] at (1140bp,649bp) {(Difference from 2000 CE)};
\node[font=\fs{10.3}] at (1130bp,57bp) {(Differences from 1976–2006 mean)};

\node[font=\fs{17}] at (168bp,604bp) {Age (Ma)};
\node[font=\fs{17.5}] at (493bp,306bp) {Age (ka)};
\node[font=\fs{17.5}] at (785bp,306bp) {Age (ka)};
\node[font=\fs{15}] at (1082bp,8bp) {Year CE};

\draw[mag, line width=1.3bp] (760bp,646bp) -- (783bp,646bp);
\node[font=\fs{9.5}, anchor=west] at (793bp,646bp) {δ\textsuperscript{18}O (‰)};
\draw[sl, line width=1.3bp] (760bp,635bp) -- (783bp,635bp);
\node[font=\fs{9.5}, anchor=west] at (793bp,635bp) {Sea level};

\foreach \t/\x/\y in {a/55/912, e/55/722, i/56/637, b/380/912, f/380/763, j/377/613, m/381/463,
  c/663/802, g/730/764, k/730/614, n/730/464, d/970/803, h/970/658, l/968/615, o/970/464, p/970/325, q/970/61}
  {\node[font=\fs{10.5}\bfseries] at (\x bp,\y bp) {(\t)};}
\end{tikzpicture}
\end{document}
